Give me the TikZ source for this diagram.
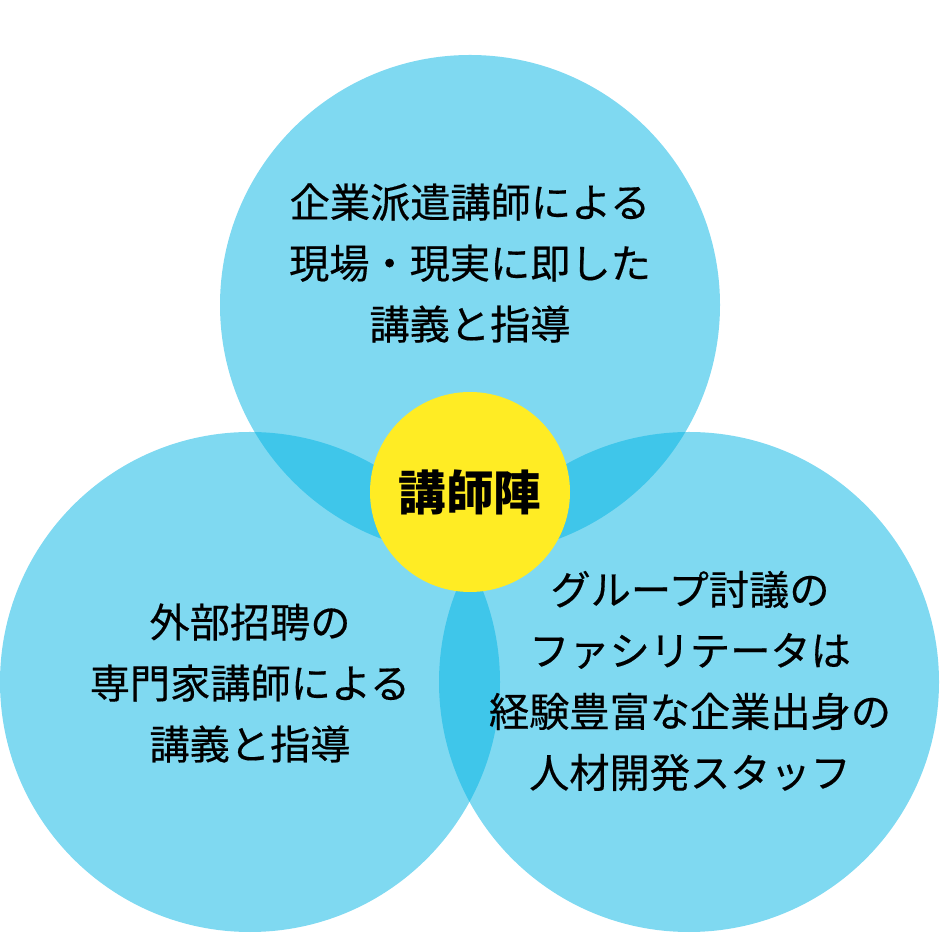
\documentclass[tikz,border=0pt]{standalone}
\usepackage{fontspec}
\newfontfamily\jpfont{Noto Sans CJK JP}[FakeBold=0.4]
\newfontfamily\jpbold{Noto Sans CJK JP}
\usepackage{xcolor}
\usepackage{tikz}
\usetikzlibrary{positioning}

\definecolor{venncyan}{RGB}{0,179,227}
\definecolor{hubyellow}{RGB}{255,236,36}

\begin{document}
\begin{tikzpicture}[
      x=1pt, y=1pt,
      bubble/.style={circle, fill=venncyan, fill opacity=0.5,
                     minimum size=500pt, inner sep=0pt},
      hub/.style={circle, fill=hubyellow, minimum size=200pt,
                  inner sep=0pt, font=\jpbold\bfseries\fontsize{47.5}{50}\selectfont},
      txt/.style={align=center, font=\jpfont\fontsize{40.2}{61}\selectfont}
    ]
    \useasboundingbox (0,0) rectangle (940,932);

    % Three overlapping circles
    \node[bubble] (top)   at (470,627) {};
    \node[bubble] (left)  at (250,250) {};
    \node[bubble] (right) at (689,250) {};

    % Centre
    \node[hub] (core) at (470,440) {講師陣};

    % Circle texts
    \node[txt] (toptxt)   at (470,669) {企業派遣講師による\\現場・現実に即した\\講義と指導};
    \node[txt] (lefttxt)  at (250,249) {外部招聘の\\専門家講師による\\講義と指導};
    \node[txt] (righttxt) at (690,251) {グループ討議の\\ファシリテータは\\経験豊富な企業出身の\\人材開発スタッフ};

  \end{tikzpicture}
\end{document}
